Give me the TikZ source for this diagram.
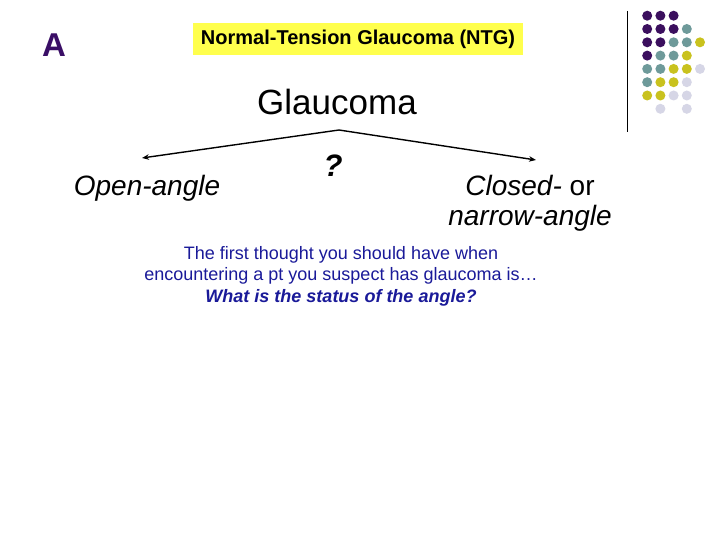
\documentclass[tikz,border=0pt]{standalone}
\usepackage{fontspec}
\setmainfont{Liberation Sans}
\usetikzlibrary{arrows.meta}
\definecolor{dpurple}{HTML}{3B0F5E}
\definecolor{dteal}{HTML}{6E9A9A}
\definecolor{dyellow}{HTML}{C9C21E}
\definecolor{dlav}{HTML}{D6D6E6}
\definecolor{titleyellow}{HTML}{FFFF4D}
\definecolor{textblue}{HTML}{1A1A99}
\definecolor{letterpurple}{HTML}{3A0E66}
\tikzset{
  dot/.style={circle,inner sep=0pt,minimum size=10bp},
  branch/.style={line width=1.4bp,-{Stealth[length=7bp,width=5.5bp]}},
  bluetext/.style={anchor=base,inner sep=0pt,text=textblue,font=\fontsize{18bp}{21bp}\selectfont}
}
\begin{document}
\begin{tikzpicture}[x=1bp,y=-1bp]
\useasboundingbox (0,0) rectangle (720,540);
\fill[white] (0,0) rectangle (720,540);
% decorative dots
\foreach \row/\cols in {1/{1/dpurple,2/dpurple,3/dpurple},
  2/{1/dpurple,2/dpurple,3/dpurple,4/dteal},
  3/{1/dpurple,2/dpurple,3/dteal,4/dteal,5/dyellow},
  4/{1/dpurple,2/dteal,3/dteal,4/dyellow},
  5/{1/dteal,2/dteal,3/dyellow,4/dyellow,5/dlav},
  6/{1/dteal,2/dyellow,3/dyellow,4/dlav},
  7/{1/dyellow,2/dyellow,3/dlav,4/dlav},
  8/{2/dlav,4/dlav}}{
  \foreach \c/\col in \cols {
    \node[dot,fill=\col] (d\row\c) at ({634+13.2*\c},{2.4+13.3*\row}) {};
  }
}
\coordinate (vtop) at (627,11);
\coordinate (vbot) at (627,132);
\draw[line width=1bp] (vtop) -- (vbot);
% title
\node[fill=titleyellow,minimum width=330bp,minimum height=32bp,inner sep=0pt,
  font=\fontsize{20bp}{22bp}\selectfont\bfseries] (title) at (358,39) {Normal-Tension Glaucoma (NTG)};
\node[text=letterpurple,font=\fontsize{33bp}{36bp}\selectfont\bfseries,inner sep=0pt] (A) at (54,45) {A};
% tree
\node[anchor=base,inner sep=0pt,font=\fontsize{35bp}{40bp}\selectfont] (glau) at (337,115) {Glaucoma};
\coordinate (apex) at (339,130);
\coordinate (lend) at (142,158);
\coordinate (rend) at (536,160);
\draw[branch] (apex) -- (lend);
\draw[branch] (apex) -- (rend);
\node[anchor=base,inner sep=0pt,font=\fontsize{31bp}{34bp}\selectfont\bfseries\itshape] (q) at (333,177) {?};
\node[anchor=base,inner sep=0pt,font=\fontsize{28bp}{32bp}\selectfont\itshape] (open) at (147,196) {Open-angle};
\node[anchor=base,inner sep=0pt,font=\fontsize{28bp}{32bp}\selectfont] (closed) at (530,196) {\itshape Closed-\upshape{} or};
\node[anchor=base,inner sep=0pt,font=\fontsize{28bp}{32bp}\selectfont\itshape] (narrow) at (530,226) {narrow-angle};
% blue text
\node[bluetext] (b1) at (341,260) {The first thought you should have when};
\node[bluetext] (b2) at (341,281) {encountering a pt you suspect has glaucoma is\ldots};
\node[bluetext,font=\fontsize{18bp}{21bp}\selectfont\bfseries\itshape] (b3) at (341,302) {What is the status of the angle?};
\end{tikzpicture}
\end{document}
